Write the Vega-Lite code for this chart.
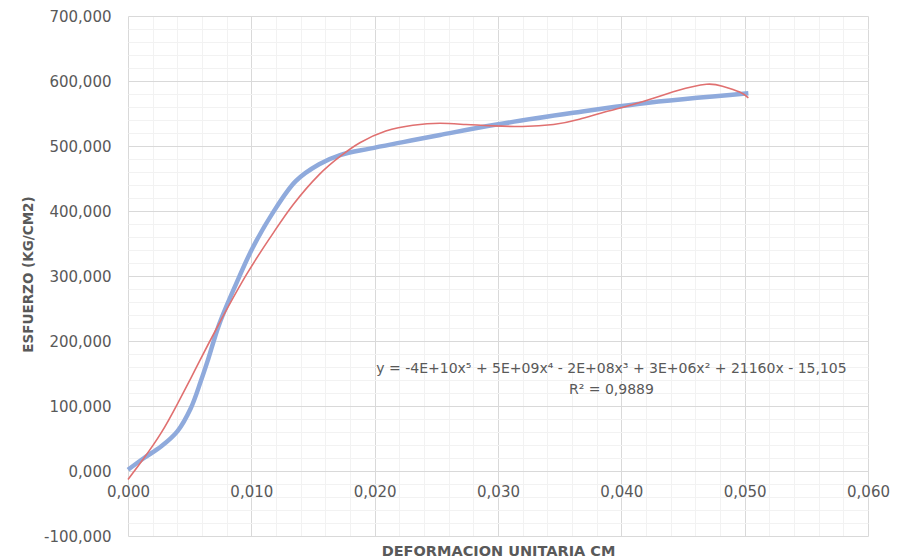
{
  "$schema": "https://vega.github.io/schema/vega-lite/v6.json",
  "width": 740,
  "height": 520,
  "autosize": {"type": "none"},
  "padding": {"left": 128, "top": 16, "right": 34, "bottom": 24},
  "background": "white",
  "config": {
    "locale": {"number": {"decimal": ",", "thousands": ".", "grouping": [3], "currency": ["", ""], "minus": "-"}},
    "view": {"stroke": null},
    "font": "DejaVu Sans",
    "axis": {
      "domain": false,
      "ticks": false,
      "tickSize": 0,
      "labelFont": "DejaVu Sans",
      "labelFontSize": 15,
      "labelColor": "#595959",
      "labelFlush": false,
      "labelOverlap": false,
      "titleFont": "DejaVu Sans",
      "titleFontWeight": "bold",
      "titleColor": "#595959"
    }
  },
  "datasets": {
    "medido": [
      {"def": 0.0, "esf": 2},
      {"def": 0.0013, "esf": 20},
      {"def": 0.0027, "esf": 38},
      {"def": 0.004, "esf": 61},
      {"def": 0.0051, "esf": 97},
      {"def": 0.0059, "esf": 138},
      {"def": 0.00645, "esf": 169},
      {"def": 0.0074, "esf": 226},
      {"def": 0.009, "esf": 298},
      {"def": 0.0101, "esf": 343},
      {"def": 0.0117, "esf": 396},
      {"def": 0.0136, "esf": 446},
      {"def": 0.0155, "esf": 472},
      {"def": 0.0172, "esf": 486},
      {"def": 0.0196, "esf": 496},
      {"def": 0.0223, "esf": 506},
      {"def": 0.0253, "esf": 517},
      {"def": 0.0299, "esf": 533},
      {"def": 0.0361, "esf": 551},
      {"def": 0.0415, "esf": 565},
      {"def": 0.0503, "esf": 581}
    ],
    "tendencia": [
      {"def": 0.0, "esf": -13},
      {"def": 0.0013, "esf": 20},
      {"def": 0.0027, "esf": 59},
      {"def": 0.004, "esf": 103},
      {"def": 0.0051, "esf": 143},
      {"def": 0.0058, "esf": 169},
      {"def": 0.0072, "esf": 220},
      {"def": 0.0096, "esf": 302},
      {"def": 0.0117, "esf": 364},
      {"def": 0.0134, "esf": 410},
      {"def": 0.0155, "esf": 456},
      {"def": 0.0172, "esf": 484},
      {"def": 0.0188, "esf": 505},
      {"def": 0.0209, "esf": 523},
      {"def": 0.0231, "esf": 532},
      {"def": 0.0253, "esf": 535},
      {"def": 0.0274, "esf": 533},
      {"def": 0.0296, "esf": 531},
      {"def": 0.032, "esf": 530},
      {"def": 0.0345, "esf": 533},
      {"def": 0.0366, "esf": 541},
      {"def": 0.0388, "esf": 553},
      {"def": 0.0415, "esf": 567},
      {"def": 0.0445, "esf": 585},
      {"def": 0.0469, "esf": 595},
      {"def": 0.0482, "esf": 592},
      {"def": 0.0496, "esf": 583},
      {"def": 0.0503, "esf": 574}
    ],
    "etiqueta": [
      {"def": 0.0392, "esf": 157, "texto": "y = -4E+10x⁵ + 5E+09x⁴ - 2E+08x³ + 3E+06x² + 21160x - 15,105\nR² = 0,9889"}
    ]
  },
  "layer": [
    {
      "data": {"name": "medido"},
      "mark": {"type": "line", "interpolate": "catmull-rom", "color": "#8FAADC", "strokeWidth": 4.5, "strokeCap": "butt"},
      "encoding": {
        "x": {
          "field": "def", "type": "quantitative",
          "scale": {"domain": [0, 0.06], "nice": false, "zero": false},
          "axis": {"orient": "bottom", "grid": true, "gridColor": "#f2f2f2", "gridWidth": 1, "labels": false, "title": null,
            "values": [0.002, 0.004, 0.006, 0.008, 0.012, 0.014, 0.016, 0.018, 0.022, 0.024, 0.026, 0.028, 0.032, 0.034, 0.036, 0.038, 0.042, 0.044, 0.046, 0.048, 0.052, 0.054, 0.056, 0.058]}
        },
        "y": {
          "field": "esf", "type": "quantitative",
          "scale": {"domain": [-100, 700], "nice": false, "zero": false},
          "axis": {"orient": "left", "grid": true, "gridColor": "#f2f2f2", "gridWidth": 1, "labels": false, "title": null,
            "values": [-80, -60, -40, -20, 20, 40, 60, 80, 120, 140, 160, 180, 220, 240, 260, 280, 320, 340, 360, 380, 420, 440, 460, 480, 520, 540, 560, 580, 620, 640, 660, 680]}
        }
      }
    },
    {
      "data": {"name": "tendencia"},
      "mark": {"type": "line", "interpolate": "natural", "color": "#E07070", "strokeWidth": 1.6},
      "encoding": {
        "x": {
          "field": "def", "type": "quantitative",
          "scale": {"domain": [0, 0.06], "nice": false, "zero": false},
          "axis": {"orient": "bottom", "grid": true, "gridColor": "#d9d9d9", "gridWidth": 1,
            "values": [0, 0.01, 0.02, 0.03, 0.04, 0.05, 0.06], "format": ".3f",
            "offset": -65, "labelPadding": 13,
            "title": "DEFORMACION UNITARIA CM", "titleFontSize": 14.5, "titleY": 84, "titleBaseline": "alphabetic", "titleAlign": "center", "titleX": 370}
        },
        "y": {
          "field": "esf", "type": "quantitative",
          "scale": {"domain": [-100, 700], "nice": false, "zero": false},
          "axis": {"orient": "left", "grid": true, "gridColor": "#d9d9d9", "gridWidth": 1,
            "values": [-100, 0, 100, 200, 300, 400, 500, 600, 700], "format": ".3f",
            "labelPadding": 17,
            "title": "ESFUERZO (KG/CM2)", "titleFontSize": 13.5, "titleX": -100, "titleY": 258, "titleAngle": -90, "titleAlign": "center", "titleBaseline": "middle"}
        }
      }
    },
    {
      "data": {"name": "etiqueta"},
      "mark": {"type": "text", "align": "center", "baseline": "middle", "fontSize": 14, "color": "#595959", "lineBreak": "\n", "lineHeight": 21, "font": "DejaVu Sans"},
      "encoding": {
        "x": {"field": "def", "type": "quantitative", "axis": null},
        "y": {"field": "esf", "type": "quantitative", "axis": null},
        "text": {"field": "texto"}
      }
    }
  ],
  "resolve": {"axis": {"x": "independent", "y": "independent"}}
}
